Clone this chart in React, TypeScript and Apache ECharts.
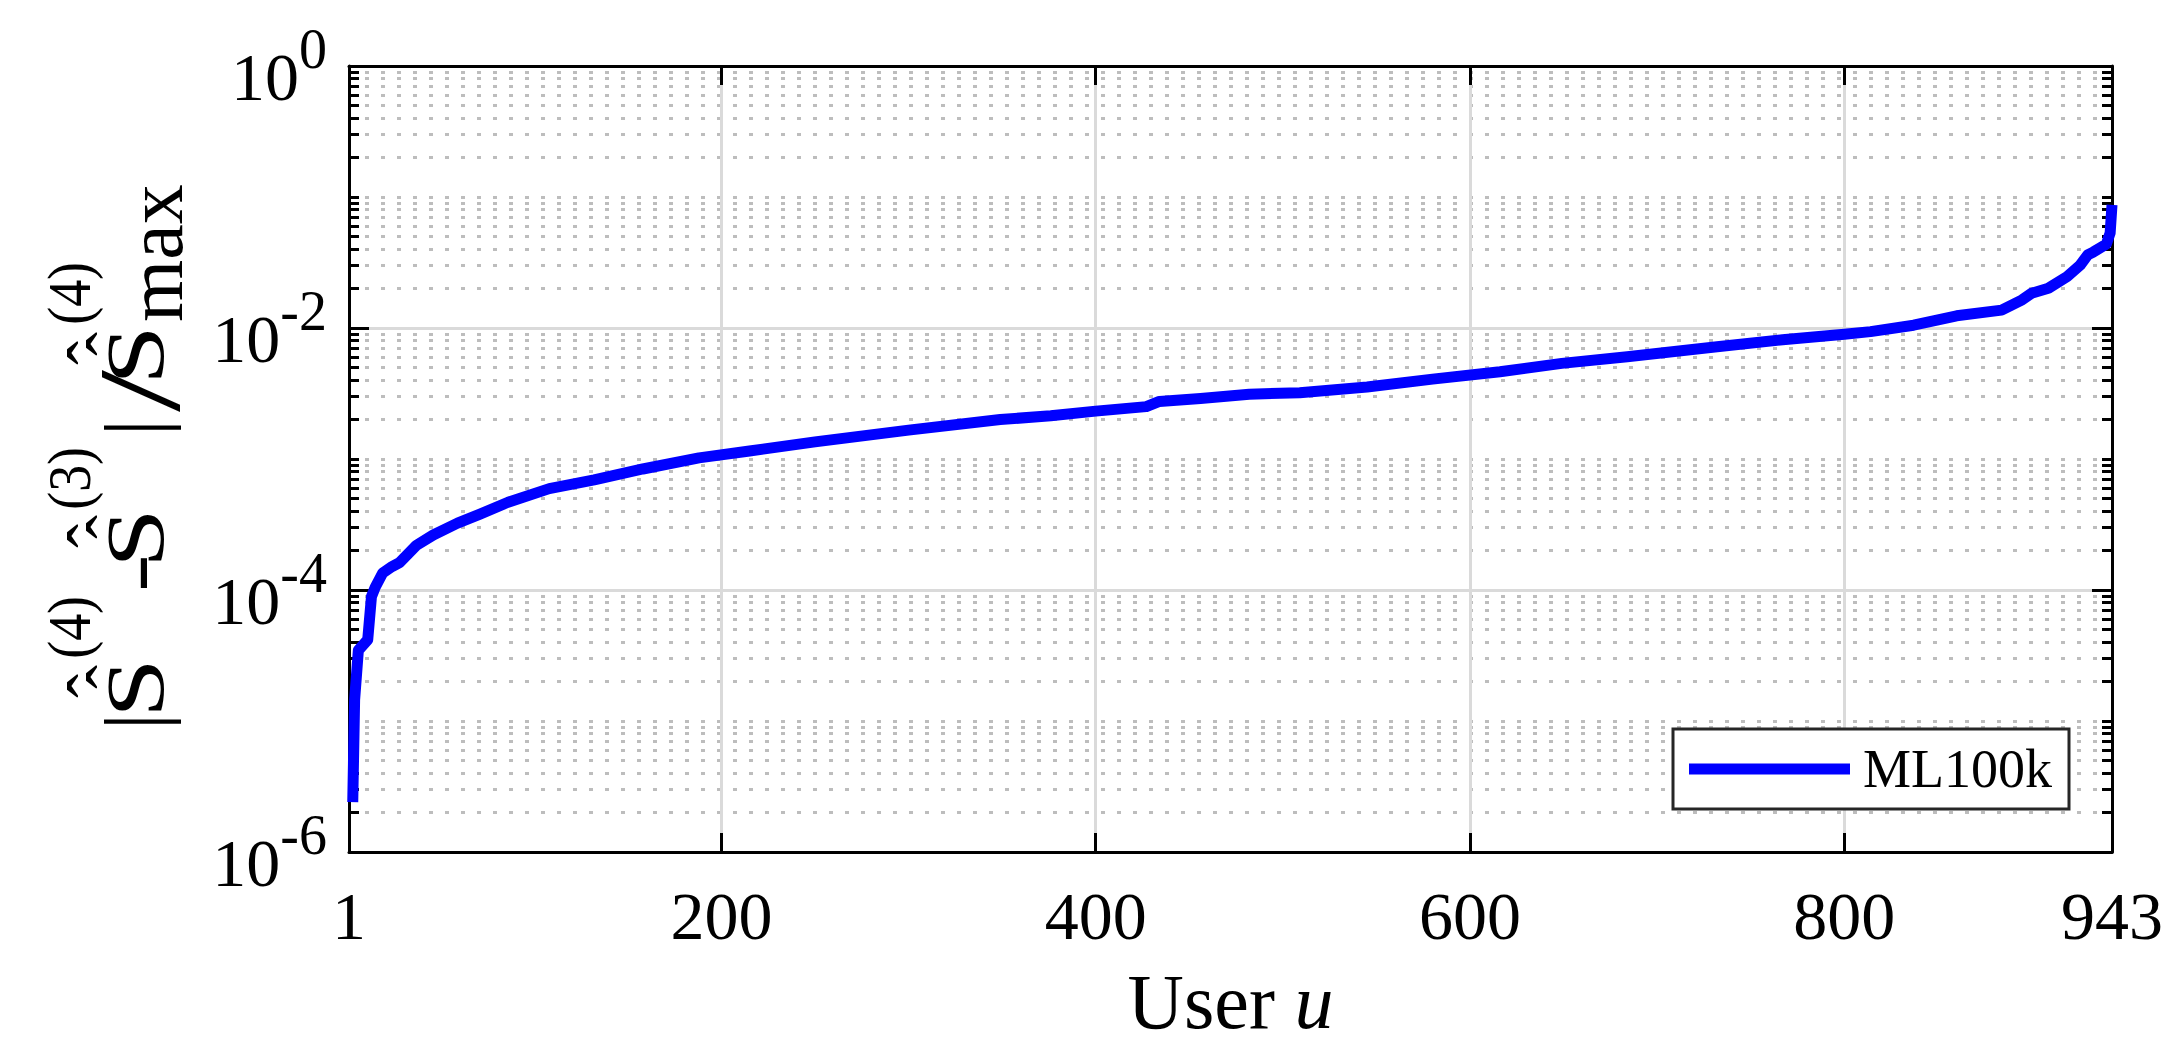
import React, { useEffect, useRef } from 'react';
import * as echarts from 'echarts';

// ---- data ----
const users = [3, 4, 6, 11, 13, 15, 19, 24, 28, 37, 46, 59, 71, 86, 108, 132, 158, 188, 215, 250,
  300, 349, 376, 400, 427, 434, 456, 482, 509, 545, 580, 616, 649, 684, 732, 767, 800, 814, 837, 860,
  884, 895, 900, 909, 919, 926, 930, 933, 940, 942, 943];
const ratio = [2.4e-6, 1.45e-5, 3.47e-5, 4.17e-5, 8.9e-5, 1.05e-4, 1.35e-4, 1.51e-4, 1.62e-4, 2.19e-4,
  2.63e-4, 3.24e-4, 3.8e-4, 4.68e-4, 5.94e-4, 6.92e-4, 8.39e-4, 1.02e-3, 1.15e-3, 1.35e-3,
  1.66e-3, 2.0e-3, 2.14e-3, 2.32e-3, 2.51e-3, 2.75e-3, 2.9e-3, 3.12e-3, 3.21e-3, 3.55e-3,
  4.07e-3, 4.63e-3, 5.37e-3, 6.04e-3, 7.19e-3, 8.13e-3, 8.95e-3, 9.38e-3, 1.05e-2, 1.24e-2,
  1.37e-2, 1.64e-2, 1.84e-2, 2.01e-2, 2.47e-2, 3.02e-2, 3.61e-2, 3.8e-2, 4.37e-2, 5.31e-2, 8.71e-2];
const seriesName = 'ML100k';
const xTickValues = [1, 200, 400, 600, 800, 943];
const xTopTickValues = [200, 400, 600, 800];
const yMin = -6;
const yMax = 0;
const yMajorStep = 2;
const minorMultipliers = [2, 3, 4, 5, 6, 7, 8, 9];
const xAxisTitle = 'User {i|u}';

const FONT = "'Liberation Serif', 'Times New Roman', Times, serif";

function txt(text: string, x: number, y: number, fs: number, sx = 1, sy = 1) {
  return {
    type: 'text',
    x,
    y,
    scaleX: sx,
    scaleY: sy,
    silent: true,
    style: {
      text,
      fontSize: fs,
      fontFamily: FONT,
      fill: '#000',
      align: 'left',
      verticalAlign: 'middle',
    },
  };
}

// y-axis title |S^(4) - S^(3)| / S^(4)_max (double hats), laid out in the rotated frame
function titlePieces() {
  return [
    txt('|', 5, 134.5, 84),
    txt('S', 17.2, 135.3, 82, 1.3, 1),
    txt('ˆ', 37, 93.2, 72),
    txt('ˆ', 46, 112.2, 72),
    txt('(4)', 76.2, 69.1, 62, 0.87, 1),
    txt('-', 142.8, 135.3, 82, 1.4, 1),
    txt('S', 167.2, 135.3, 82, 1.3, 1),
    txt('ˆ', 187, 93.2, 72),
    txt('ˆ', 196, 112.2, 72),
    txt('(3)', 225.2, 69.1, 62, 0.87, 1),
    txt('|', 299, 134.5, 84),
    txt('/', 323, 140.2, 116, 1.3, 1),
    txt('S', 350.2, 135.3, 82, 1.3, 1),
    txt('ˆ', 370, 93.2, 72),
    txt('ˆ', 379, 112.2, 72),
    txt('(4)', 410.2, 69.1, 62, 0.87, 1),
    txt('max', 413, 155, 80),
  ];
}

export default function App() {
  const ref = useRef<HTMLDivElement>(null);
  useEffect(() => {
    const chart = echarts.init(ref.current!, null, { renderer: 'svg' });

    const minorTicks: number[] = [];
    for (let k = yMin; k < yMax; k++) {
      if (k % 2 !== 0) minorTicks.push(k);
      for (const m of minorMultipliers) minorTicks.push(k + Math.log10(m));
    }

    const data = users.map((u, i) => [u, Math.log10(ratio[i])]);

    const black = { color: '#000', width: 3 };

    const option: any = {
      animation: false,
      backgroundColor: '#fff',
      grid: {
        left: 349,
        right: 71,
        top: 66,
        bottom: 200,
        containLabel: false,
        outerBoundsMode: 'none',
      },
      legend: {
        show: true,
        data: [{ name: seriesName, icon: 'rect' }],
        left: 1673,
        top: 729,
        orient: 'horizontal',
        itemWidth: 161,
        itemHeight: 11,
        padding: [13, 17, 13, 16],
        backgroundColor: '#fff',
        borderColor: '#262626',
        borderWidth: 3,
        borderRadius: 0,
        selectedMode: false,
        textStyle: { fontSize: 54, fontFamily: FONT, color: '#000', padding: [0, 0, 0, 8] },
      },
      xAxis: [
        {
          type: 'value', min: 1, max: 943, position: 'bottom', z: 1,
          axisLine: { show: true, onZero: false, lineStyle: black },
          axisTick: { show: true, inside: true, length: 19, customValues: xTickValues, lineStyle: black },
          axisLabel: { show: true, customValues: xTickValues, margin: 30, fontSize: 68, fontFamily: FONT, color: '#000' },
          splitLine: { show: false },
          name: xAxisTitle, nameLocation: 'middle', nameGap: 110,
          nameTextStyle: {
            fontSize: 78, fontFamily: FONT, color: '#000',
            rich: { i: { fontSize: 78, fontFamily: FONT, fontStyle: 'italic', color: '#000' } },
          },
        },
        {
          type: 'value', min: 1, max: 943, position: 'top', z: 1,
          axisLine: { show: true, onZero: false, lineStyle: black },
          axisTick: { show: true, inside: true, length: 19, customValues: xTopTickValues, lineStyle: black },
          axisLabel: { show: false }, splitLine: { show: false },
        },
        {
          type: 'value', min: 1, max: 943, position: 'bottom', z: 0,
          axisLine: { show: false },
          axisTick: { show: false, customValues: xTickValues },
          axisLabel: { show: false },
          splitLine: { show: true, lineStyle: { color: '#dadada', width: 3 } },
        },
      ],
      yAxis: [
        {
          type: 'value', min: yMin, max: yMax, interval: yMajorStep, position: 'left', z: 1,
          axisLine: { show: true, onZero: false, lineStyle: black },
          axisTick: { show: true, inside: true, length: 20, lineStyle: black },
          axisLabel: {
            show: true, margin: 22,
            formatter: (v: number) => `{b|10}{s|${Math.round(v)}}`,
            rich: {
              b: { fontSize: 68, fontFamily: FONT, color: '#000', verticalAlign: 'bottom' },
              s: { fontSize: 56, fontFamily: FONT, color: '#000', verticalAlign: 'bottom', padding: [0, 0, 34, 0] },
            },
          },
          splitLine: { show: false },
        },
        {
          type: 'value', min: yMin, max: yMax, position: 'left', z: 0,
          axisLine: { show: false },
          axisTick: { show: true, inside: true, length: 10, customValues: minorTicks, lineStyle: black },
          axisLabel: { show: false },
          splitLine: { show: true, lineStyle: { color: '#bdbdbd', width: 3, type: [4, 12], cap: 'butt' } },
        },
        {
          type: 'value', min: yMin, max: yMax, interval: yMajorStep, position: 'right', z: 1,
          axisLine: { show: true, onZero: false, lineStyle: black },
          axisTick: { show: true, inside: true, length: 20, lineStyle: black },
          axisLabel: { show: false }, splitLine: { show: false },
        },
        {
          type: 'value', min: yMin, max: yMax, position: 'right', z: 1,
          axisLine: { show: false },
          axisTick: { show: true, inside: true, length: 10, customValues: minorTicks, lineStyle: black },
          axisLabel: { show: false }, splitLine: { show: false },
        },
        {
          type: 'value', min: yMin, max: yMax, interval: yMajorStep, position: 'left', z: 0,
          axisLine: { show: false }, axisTick: { show: false }, axisLabel: { show: false },
          splitLine: { show: true, lineStyle: { color: '#dadada', width: 3 } },
        },
      ],
      series: [
        {
          type: 'line', name: seriesName, data, xAxisIndex: 0, yAxisIndex: 0,
          symbol: 'none', showSymbol: false, clip: false, z: 2, silent: true,
          lineStyle: { color: '#0000ff', width: 11, cap: 'butt', join: 'round' },
          itemStyle: { color: '#0000ff' },
          emphasis: { disabled: true },
        },
      ],
      graphic: [
        { type: 'group', x: 0, y: 735, rotation: Math.PI / 2, silent: true, children: titlePieces() },
      ],
    };

    chart.setOption(option);
    return () => {
      chart.dispose();
    };
  }, []);

  return (
    <div
      ref={ref}
      style={{ position: 'fixed', left: 0, top: 0, width: 2183, height: 1052, background: '#fff' }}
    />
  );
}
